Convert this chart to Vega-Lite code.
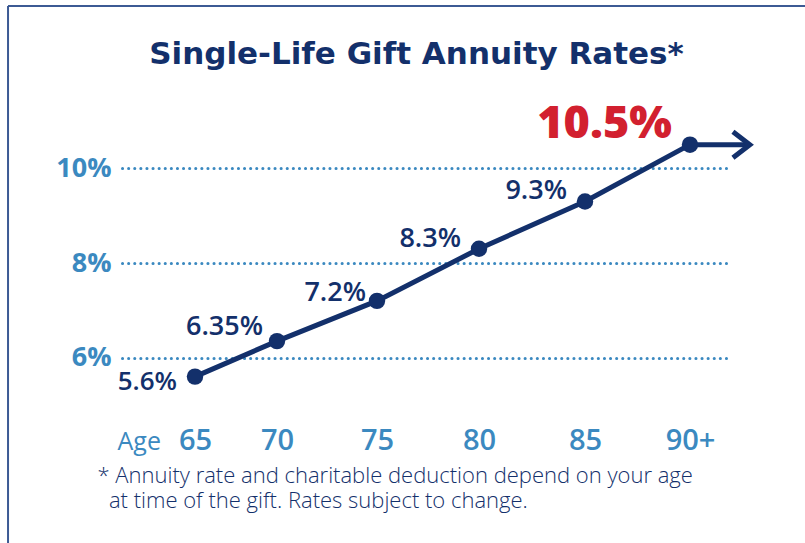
{
  "$schema": "https://vega.github.io/schema/vega-lite/v6.json",
  "width": 605,
  "height": 284,
  "autosize": {"type": "none"},
  "padding": {"left": 122, "top": 121, "right": 78, "bottom": 138},
  "background": "white",
  "config": {"view": {"stroke": null}, "font": "Open Sans"},
  "title": {
    "text": "Single-Life Gift Annuity Rates*",
    "font": "DejaVu Sans",
    "fontSize": 31,
    "fontWeight": "bold",
    "color": "#13306b",
    "anchor": "middle",
    "frame": "group",
    "dx": -8,
    "offset": -66
  },
  "data": {
    "values": [
      {"age": 65, "rate": 5.6, "label": "5.6%"},
      {"age": 70, "rate": 6.35, "label": "6.35%"},
      {"age": 75, "rate": 7.2, "label": "7.2%"},
      {"age": 80, "rate": 8.3, "label": "8.3%"},
      {"age": 85, "rate": 9.3, "label": "9.3%"},
      {"age": 90, "rate": 10.5, "label": "10.5%"}
    ]
  },
  "layer": [
    {
      "data": {"values": [{}]},
      "mark": {"type": "rule", "color": "#3c5a94", "strokeWidth": 2},
      "encoding": {
        "x": {"datum": 53.6, "type": "quantitative"},
        "y": {"datum": 13.43, "type": "quantitative"},
        "y2": {"datum": 0}
      }
    },
    {
      "data": {"values": [{}]},
      "mark": {"type": "rule", "color": "#3c5a94", "strokeWidth": 2},
      "encoding": {
        "x": {"datum": 53.6, "type": "quantitative"},
        "x2": {"datum": 100},
        "y": {"datum": 13.43, "type": "quantitative"}
      }
    },
    {
      "mark": {"type": "line", "color": "#13306b", "strokeWidth": 5},
      "encoding": {
        "x": {
          "field": "age",
          "type": "quantitative",
          "scale": {"domain": [60.549, 65, 70, 75, 80, 85, 90, 91.762], "range": [0, 73, 155, 255, 357, 463, 568, 605], "zero": false, "nice": false},
          "axis": {
            "values": [65, 70, 75, 80, 85, 90],
            "labelExpr": "datum.value == 90 ? '90+' : datum.label",
            "grid": false,
            "domain": false,
            "ticks": false,
            "labelPadding": 35,
            "labelBaseline": "middle",
            "labelFontSize": 29,
            "labelFontWeight": 600,
            "labelColor": "#3b89c0",
            "labelFont": "Open Sans",
            "labelFlush": false,
            "labelOverlap": false,
            "title": ["* Annuity rate and charitable deduction depend on your age", "\u200b\u00a0\u00a0at time of the gift. Rates subject to change."],
            "titleX": -25,
            "titleY": 60,
            "titleAlign": "left",
            "titleAnchor": "start",
            "titleBaseline": "top",
            "titleFontSize": 22,
            "titleFontWeight": 300,
            "titleColor": "#13306b",
            "titleFont": "Open Sans",
            "titleLineHeight": 25
          }
        },
        "y": {
          "field": "rate",
          "type": "quantitative",
          "scale": {"domain": [5, 11], "zero": false, "nice": false},
          "axis": {
            "values": [6, 8, 10],
            "labelExpr": "datum.value + '%'",
            "grid": true,
            "gridDash": [0.1, 6],
            "gridCap": "round",
            "gridWidth": 3,
            "gridColor": "#3b89c0",
            "domain": false,
            "ticks": false,
            "labelPadding": 11,
            "labelFontSize": 27,
            "labelFontWeight": "bold",
            "labelColor": "#3b89c0",
            "labelFont": "Open Sans",
            "title": "Age",
            "titleAngle": 0,
            "titleX": -5,
            "titleY": 320,
            "titleAlign": "left",
            "titleBaseline": "middle",
            "titleFontSize": 25,
            "titleFontWeight": "normal",
            "titleColor": "#3b89c0",
            "titleFont": "Open Sans"
          }
        }
      }
    },
    {
      "data": {"values": [{}]},
      "mark": {"type": "rule", "color": "#13306b", "strokeWidth": 5},
      "encoding": {
        "x": {"datum": 90, "type": "quantitative"},
        "x2": {"datum": 92.8},
        "y": {"datum": 10.5, "type": "quantitative"}
      }
    },
    {
      "data": {"values": [{}]},
      "mark": {"type": "point", "shape": "M-1.3,-1L0,0L-1.3,1", "filled": false, "size": 676, "stroke": "#13306b", "strokeWidth": 5, "strokeJoin": "miter", "opacity": 1},
      "encoding": {
        "x": {"datum": 92.85, "type": "quantitative"},
        "y": {"datum": 10.5, "type": "quantitative"}
      }
    },
    {
      "mark": {"type": "circle", "size": 270, "color": "#13306b", "opacity": 1},
      "encoding": {
        "x": {"field": "age", "type": "quantitative"},
        "y": {"field": "rate", "type": "quantitative"}
      }
    },
    {
      "transform": [{"filter": "datum.age == 65"}],
      "mark": {"type": "text", "align": "right", "baseline": "middle", "dx": -18, "dy": 5, "fontSize": 26, "fontWeight": 600, "color": "#13306b", "font": "Open Sans"},
      "encoding": {
        "x": {"field": "age", "type": "quantitative"},
        "y": {"field": "rate", "type": "quantitative"},
        "text": {"field": "label"}
      }
    },
    {
      "transform": [{"filter": "datum.age == 70"}],
      "mark": {"type": "text", "align": "right", "baseline": "middle", "dx": -14, "dy": -14, "fontSize": 27, "fontWeight": 600, "color": "#13306b", "font": "Open Sans"},
      "encoding": {
        "x": {"field": "age", "type": "quantitative"},
        "y": {"field": "rate", "type": "quantitative"},
        "text": {"field": "label"}
      }
    },
    {
      "transform": [{"filter": "datum.age == 75"}],
      "mark": {"type": "text", "align": "right", "baseline": "middle", "dx": -11, "dy": -8, "fontSize": 27, "fontWeight": 600, "color": "#13306b", "font": "Open Sans"},
      "encoding": {
        "x": {"field": "age", "type": "quantitative"},
        "y": {"field": "rate", "type": "quantitative"},
        "text": {"field": "label"}
      }
    },
    {
      "transform": [{"filter": "datum.age == 80 || datum.age == 85"}],
      "mark": {"type": "text", "align": "right", "baseline": "middle", "dx": -18, "dy": -10, "fontSize": 27, "fontWeight": 600, "color": "#13306b", "font": "Open Sans"},
      "encoding": {
        "x": {"field": "age", "type": "quantitative"},
        "y": {"field": "rate", "type": "quantitative"},
        "text": {"field": "label"}
      }
    },
    {
      "transform": [{"filter": "datum.age == 90"}],
      "mark": {"type": "text", "align": "right", "baseline": "middle", "dx": -18, "dy": -21, "fontSize": 45, "fontWeight": 800, "color": "#d2202f", "font": "Open Sans"},
      "encoding": {
        "x": {"field": "age", "type": "quantitative"},
        "y": {"field": "rate", "type": "quantitative"},
        "text": {"field": "label"}
      }
    }
  ]
}
